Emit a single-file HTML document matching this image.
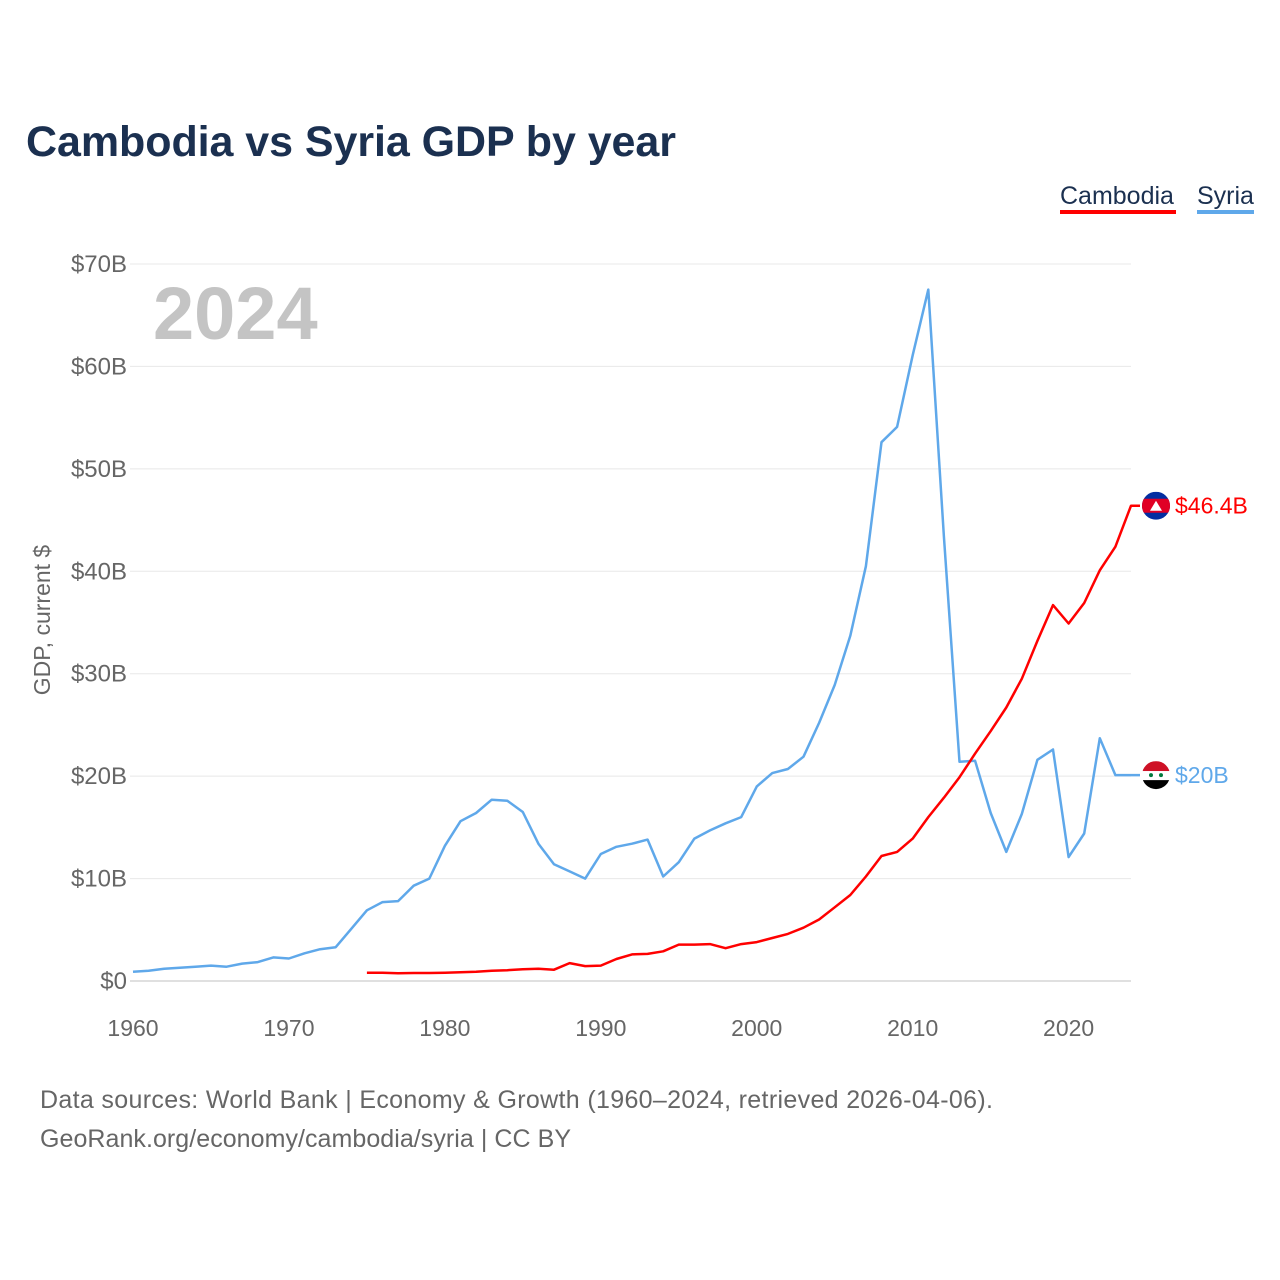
<!DOCTYPE html>
<html><head><meta charset="utf-8"><style>
body{margin:0;background:#fff;font-family:"Liberation Sans",sans-serif}
svg{display:block}
</style></head><body>
<svg id="chart" width="1280" height="1280" xmlns="http://www.w3.org/2000/svg">
<text x="26" y="156" font-size="43" font-weight="bold" fill="#1b3050" textLength="650">Cambodia vs Syria GDP by year</text>
<g>
<text x="1060" y="204" font-size="25" fill="#1b3050">Cambodia</text>
<rect x="1060" y="210" width="116" height="4" fill="#ff0000"/>
<text x="1197" y="204" font-size="25" fill="#1b3050">Syria</text>
<rect x="1197" y="210" width="57" height="4" fill="#5fa8ea"/>
</g>
<text x="153" y="339" font-size="74" font-weight="bold" fill="#c4c4c4">2024</text>
<text transform="translate(50,620) rotate(-90)" text-anchor="middle" font-size="23" fill="#666">GDP, current $</text>
<g id="grid"></g><g id="yt"></g><g id="xt"></g><g id="lines"></g><g id="ends"></g>
<text x="40" y="1108" font-size="25" fill="#666" textLength="953">Data sources: World Bank | Economy &amp; Growth (1960–2024, retrieved 2026-04-06).</text>
<text x="40" y="1147" font-size="25" fill="#666" textLength="531">GeoRank.org/economy/cambodia/syria | CC BY</text>
</svg>
<script>
const syriaYears=[1960,1961,1962,1963,1964,1965,1966,1967,1968,1969,1970,1971,1972,1973,1974,1975,1976,1977,1978,1979,1980,1981,1982,1983,1984,1985,1986,1987,1988,1989,1990,1991,1992,1993,1994,1995,1996,1997,1998,1999,2000,2001,2002,2003,2004,2005,2006,2007,2008,2009,2010,2011,2012,2013,2014,2015,2016,2017,2018,2019,2020,2021,2022,2023,2024];
const syriaValues=[0.9,1.0,1.2,1.3,1.4,1.5,1.4,1.7,1.85,2.3,2.2,2.7,3.1,3.3,5.1,6.9,7.7,7.8,9.3,10.0,13.2,15.6,16.4,17.7,17.6,16.5,13.4,11.4,10.7,10.0,12.4,13.1,13.4,13.8,10.2,11.6,13.9,14.7,15.4,16.0,19.0,20.3,20.7,21.9,25.2,28.9,33.7,40.5,52.6,54.1,61.1,67.5,43.4,21.4,21.5,16.4,12.6,16.3,21.6,22.6,12.1,14.4,23.7,20.1,20.1];
const cambodiaYears=[1975,1976,1977,1978,1979,1980,1981,1982,1983,1984,1985,1986,1987,1988,1989,1990,1991,1992,1993,1994,1995,1996,1997,1998,1999,2000,2001,2002,2003,2004,2005,2006,2007,2008,2009,2010,2011,2012,2013,2014,2015,2016,2017,2018,2019,2020,2021,2022,2023,2024];
const cambodiaValues=[0.8,0.8,0.75,0.78,0.78,0.8,0.85,0.9,1.0,1.05,1.15,1.2,1.1,1.75,1.45,1.5,2.15,2.6,2.65,2.9,3.55,3.55,3.6,3.2,3.6,3.8,4.2,4.6,5.2,6.0,7.2,8.4,10.2,12.2,12.6,13.9,16.0,17.9,19.9,22.2,24.4,26.7,29.5,33.2,36.7,34.9,36.9,40.1,42.4,46.4];
const yTicks=[0,10,20,30,40,50,60,70];
const yTickLabels=["$0","$10B","$20B","$30B","$40B","$50B","$60B","$70B"];
const xTicks=[1960,1970,1980,1990,2000,2010,2020];
const NS="http://www.w3.org/2000/svg";
const X=yr=>133+(yr-1960)*(1131-133)/64;
const Y=v=>981-v*(981-264)/70;
function mk(tag,attrs,parent){const e=document.createElementNS(NS,tag);for(const k in attrs)e.setAttribute(k,attrs[k]);document.getElementById(parent).appendChild(e);return e;}
yTicks.forEach((t,i)=>{
 const g=mk('line',{x1:130,x2:1131,y1:Y(t),y2:Y(t),stroke:t===0?'#e0e0e0':'#e8e8e8','stroke-width':t===0?2:1},'grid');
 
 
 const l=mk('text',{x:127,y:Y(t)+8,'text-anchor':'end','font-size':24,fill:'#666'},'yt');
 l.textContent=yTickLabels[i];
 
 
});
xTicks.forEach(t=>{
 const l=mk('text',{x:X(t),y:1036,'text-anchor':'middle','font-size':23,fill:'#666'},'xt');
 l.textContent=t;
 
 
});
function line(ys,vs,col,name){
 const d=ys.map((y,i)=>(i?'L':'M')+X(y).toFixed(1)+','+Y(vs[i]).toFixed(1)).join('')+'L1140,'+Y(vs[vs.length-1]).toFixed(1);
 const p=mk('path',{d:d,fill:'none',stroke:col,'stroke-width':2.5,'stroke-linejoin':'round'},'lines');
 
 
}
line(syriaYears,syriaValues,'#5fa8ea','syria-line');
line(cambodiaYears,cambodiaValues,'#ff0000','cambodia-line');
const cy=Y(cambodiaValues[cambodiaValues.length-1]), sy=Y(syriaValues[syriaValues.length-1]);
const fc=mk('g',{},'ends');


fc.innerHTML=`<clipPath id="cc"><circle cx="1156" cy="${cy}" r="14"/></clipPath><g clip-path="url(#cc)"><rect x="1142" y="${cy-14}" width="28" height="28" fill="#032ea1"/><rect x="1142" y="${cy-7}" width="28" height="14" fill="#e00025"/></g><path d="M1150,${cy+5}L1156,${cy-5}L1162,${cy+5}Z" fill="#fff"/>`;
const fs=mk('g',{},'ends');


fs.innerHTML=`<clipPath id="sc"><circle cx="1156" cy="${sy}" r="14"/></clipPath><g clip-path="url(#sc)"><rect x="1142" y="${sy-14}" width="28" height="10" fill="#ce1126"/><rect x="1142" y="${sy-4}" width="28" height="9" fill="#fff"/><rect x="1142" y="${sy+5}" width="28" height="10" fill="#000"/></g><circle cx="1151" cy="${sy}" r="2" fill="#007a3d"/><circle cx="1161" cy="${sy}" r="2" fill="#007a3d"/>`;
const lc=mk('text',{x:1175,y:cy+8,'font-size':23,fill:'#ff0000'},'ends');
lc.textContent='$46.4B';


const ls=mk('text',{x:1175,y:sy+8,'font-size':23,fill:'#5fa8ea'},'ends');
ls.textContent='$20B';


</script>
</body></html>
